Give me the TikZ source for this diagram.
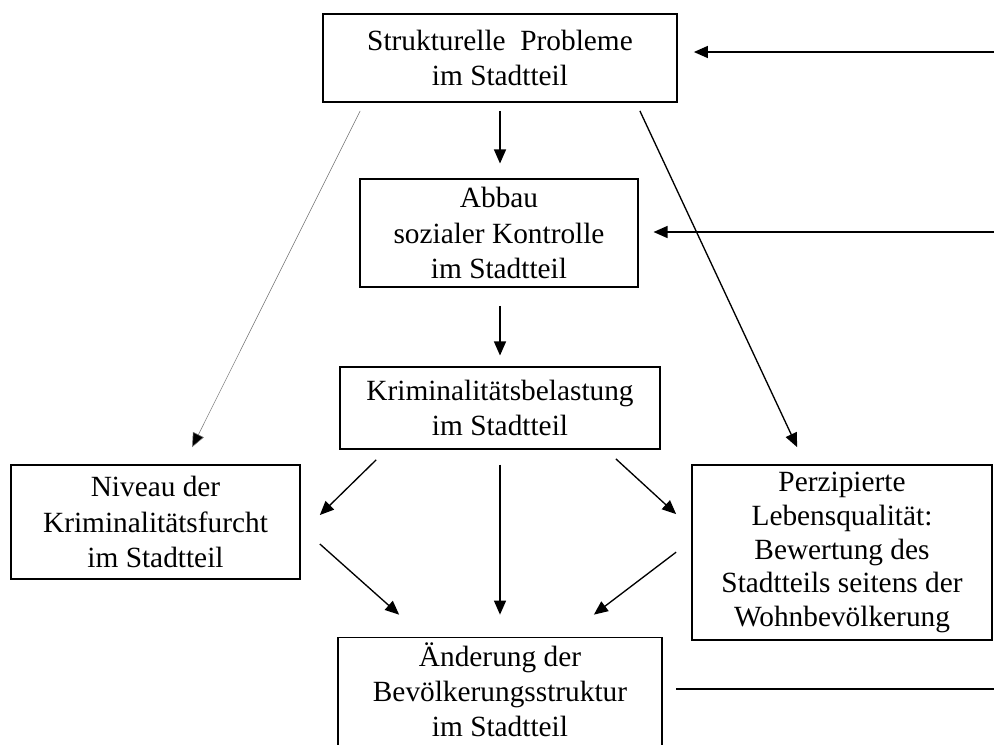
\documentclass[tikz,border=0pt]{standalone}
\usepackage{fontspec}
\setmainfont{Liberation Serif}
\usetikzlibrary{calc}
\usetikzlibrary{arrows.meta}

\tikzset{
  box/.style={draw,line width=1.3pt,inner sep=0pt,align=center,
    font=\fontsize{22}{26.3}\selectfont},
  arr/.style={line width=1pt,-{Triangle[length=10.5pt,width=9pt]}},
  thinarr/.style={line width=0.4pt,draw=black!55,-{Triangle[length=10.5pt,width=9pt,fill=black]}}
}

\begin{document}
\begin{tikzpicture} [x=0.75pt,y=-0.75pt]

\useasboundingbox (0,0) rectangle (994,744);
\clip (0,0) rectangle (994,744);

\node[box,minimum width=265.5pt,minimum height=66pt] (sp) at (500,58) {Strukturelle~ Probleme\\im Stadtteil};
\node[box,minimum width=208.5pt,minimum height=81pt] (abbau) at (499,233) {Abbau\\sozialer Kontrolle\\im Stadtteil};
\node[box,minimum width=240pt,minimum height=61.5pt] (kb) at (500,408) {Kriminalitätsbelastung\\im Stadtteil};
\node[box,minimum width=216.75pt,minimum height=85.5pt] (niveau) at (155.5,522) {Niveau der\\Kriminalitätsfurcht\\im Stadtteil};
\node[box,minimum width=225pt,minimum height=131.25pt,font=\fontsize{22}{25.2}\selectfont] (perz) at (842,552.5) {Perzipierte\\Lebensqualität:\\Bewertung des\\Stadtteils seitens der\\Wohnbevölkerung};
\node[box,minimum width=243pt,minimum height=81.75pt,text depth=3pt] (aend) at (500,692) {Änderung der\\Bevölkerungsstruktur\\im Stadtteil};

\coordinate (in1) at (994,52);
\coordinate (in2) at (994,232);
\coordinate (out) at (994,689);

\draw[arr,shorten >=12pt] (in1) -- (in1 -| sp.east);
\draw[arr,shorten >=11pt] (in2) -- (in2 -| abbau.east);
\draw[line width=1pt,shorten <=10pt] (out -| aend.east) -- (out);

\draw[arr,shorten <=6pt,shorten >=11pt] (sp.south) -- (sp.south |- abbau.north);
\draw[arr,shorten <=13.5pt,shorten >=8pt] (abbau.south -| kb.north) -- (kb.north);
\draw[arr,shorten <=11pt,shorten >=16.5pt] (kb.south) -- (aend.north);

\draw[thinarr] ($(sp.south west)+(38,8)$) -- ($(niveau.north west)+(182,-17)$);
\draw[arr] ($(sp.south east)+(-38,8)$) -- ($(perz.north west)+(106,-17)$);

\draw[arr] ($(kb.south west)+(37,10)$) -- ($(niveau.east)+(19,-7)$);
\draw[arr] ($(kb.south east)+(-45,9)$) -- ($(perz.north west)+(-15,50)$);
\draw[arr] ($(niveau.east)+(19,22)$) -- ($(aend.north west)+(62,-22)$);
\draw[arr] ($(perz.north west)+(-15,88)$) -- ($(aend.north east)+(-69,-22)$);

\end{tikzpicture}
\end{document}
